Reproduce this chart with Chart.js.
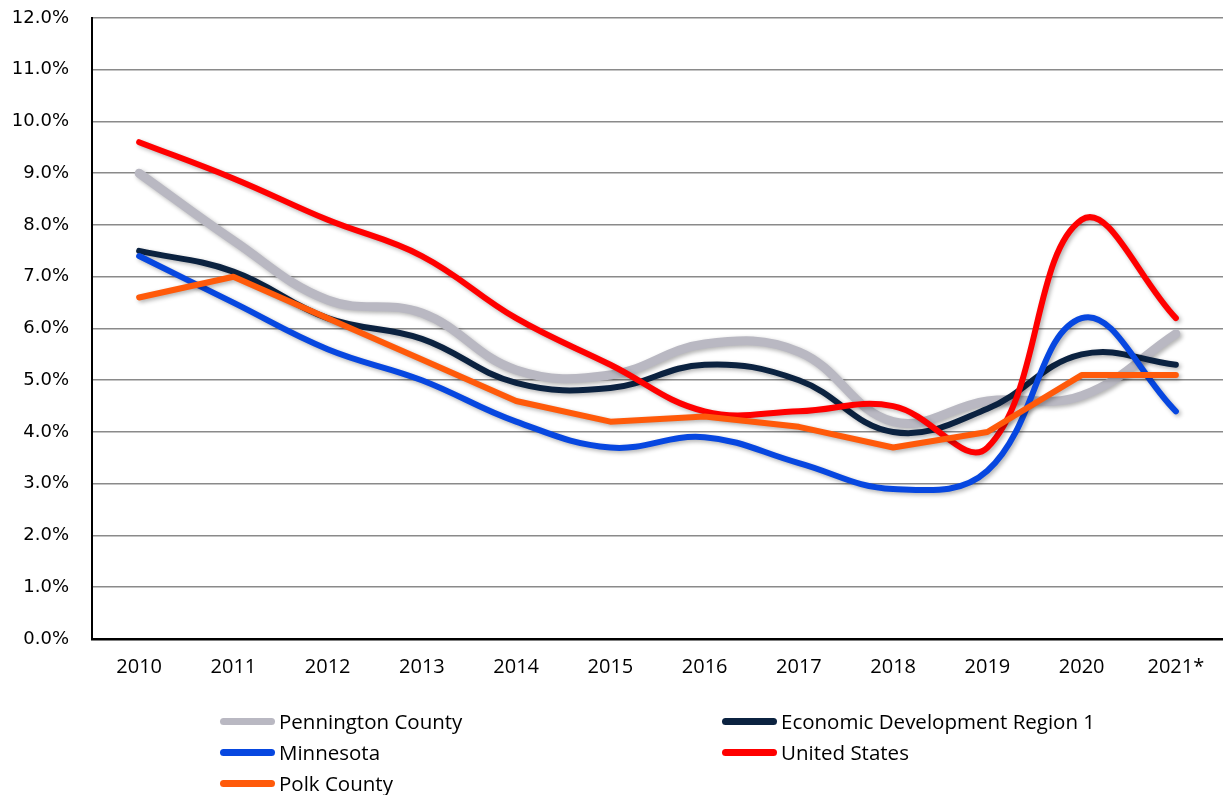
<!DOCTYPE html>
<html>
<head>
<meta charset="utf-8">
<title>Unemployment Rate 2010-2021</title>
<script src="https://cdn.jsdelivr.net/npm/chart.js"></script>
<style>
  body { margin: 0; background: #fff; }
  .container { position: relative; width: 1223px; height: 795px; }
  #legend { position: absolute; left: 0; top: 0; width: 1223px; height: 795px; pointer-events: none;
    font-family: "Open Sans", sans-serif; font-size: 20.5px; color: #000; }
  .item { position: absolute; display: flex; align-items: center; height: 30px; }
  .swatch { width: 55px; height: 7px; border-radius: 4px; margin-right: 4px; }
</style>
</head>
<body>
<div class="container">
  <canvas id="myChart" width="1223" height="795"></canvas>
  <div id="legend"></div>
</div>
<script>
// Data (unemployment rate, %)
const years = ["2010", "2011", "2012", "2013", "2014", "2015", "2016", "2017", "2018", "2019", "2020", "2021*"];
const penningtonCounty = [9.0, 7.7, 6.55, 6.3, 5.2, 5.1, 5.7, 5.55, 4.2, 4.6, 4.7, 5.9];
const edRegion1 = [7.5, 7.1, 6.2, 5.8, 4.95, 4.85, 5.3, 5.0, 4.0, 4.45, 5.5, 5.3];
const minnesota = [7.4, 6.5, 5.6, 5.0, 4.2, 3.7, 3.9, 3.4, 2.9, 3.25, 6.2, 4.4];
const unitedStates = [9.6, 8.9, 8.1, 7.4, 6.2, 5.3, 4.4, 4.4, 4.5, 3.7, 8.1, 6.2];
const polkCounty = [6.6, 7.0, 6.2, 5.4, 4.6, 4.2, 4.3, 4.1, 3.7, 4.0, 5.1, 5.1];
const yTicks = [0, 1, 2, 3, 4, 5, 6, 7, 8, 9, 10, 11, 12];

// Series styles (order: lower number is drawn on top)
const series = [
  { label: "Pennington County", data: penningtonCounty, color: "#b9b8c2", width: 9, tension: 0.4, order: 4 },
  { label: "Economic Development Region 1", data: edRegion1, color: "#0b2240", width: 6, tension: 0.4, order: 3 },
  { label: "Minnesota", data: minnesota, color: "#0747e0", width: 6, tension: 0.4, order: 2 },
  { label: "United States", data: unitedStates, color: "#ff0000", width: 6, tension: 0.4, order: 1 },
  { label: "Polk County", data: polkCounty, color: "#ff5a0a", width: 6, tension: 0, order: 0 },
];

// Soft drop shadow under each line, like the original
const shadowPlugin = {
  id: "lineShadow",
  beforeDatasetDraw(chart) {
    const ctx = chart.ctx;
    ctx.save();
    ctx.shadowColor = "rgba(0,0,0,0.3)";
    ctx.shadowBlur = 4;
    ctx.shadowOffsetX = 2;
    ctx.shadowOffsetY = 2;
  },
  afterDatasetDraw(chart) {
    chart.ctx.restore();
  },
};

const ctx = document.getElementById("myChart");

new Chart(ctx, {
  type: "line",
  data: {
    labels: years,
    datasets: series.map((s) => ({
      label: s.label,
      data: s.data,
      borderColor: s.color,
      backgroundColor: s.color,
      borderWidth: s.width,
      borderCapStyle: "round",
      borderJoinStyle: "round",
      tension: s.tension,
      pointRadius: 0,
      order: s.order,
      fill: false,
    })),
  },
  options: {
    responsive: false,
    animation: false,
    layout: { padding: { top: 18, right: 0, left: 0, bottom: 0 } },
    plugins: {
      legend: { display: false },
      tooltip: { enabled: false },
    },
    scales: {
      x: {
        offset: true,
        grid: { display: false, drawTicks: false },
        border: { color: "#000", width: 2.5 },
        ticks: {
          padding: 16,
          color: "#000",
          font: { family: "Open Sans", size: 20 },
          maxRotation: 0,
        },
        afterFit(scale) {
          scale.height = 795 - 639;
        },
      },
      y: {
        min: 0,
        max: 12,
        afterBuildTicks(scale) {
          scale.ticks = yTicks.map((v) => ({ value: v }));
        },
        // invisible tick marks make the gap between labels and axis
        grid: { color: "#8a8a8a", lineWidth: 1.6, drawTicks: true, tickLength: 23, tickColor: "rgba(0,0,0,0)" },
        border: { color: "#000", width: 2 },
        ticks: {
          padding: 0,
          color: "#000",
          font: { family: "DejaVu Sans", size: 18 },
          callback: (v) => v.toFixed(1) + "%",
        },
        afterFit(scale) {
          scale.width = 92;
        },
      },
    },
  },
  plugins: [shadowPlugin],
});

// Legend in two columns under the chart
const legendPos = [
  { left: 220, top: 706 },
  { left: 722, top: 706 },
  { left: 220, top: 737 },
  { left: 722, top: 737 },
  { left: 220, top: 768 },
];
const legend = document.getElementById("legend");
series.forEach((s, i) => {
  const item = document.createElement("div");
  item.className = "item";
  item.style.left = legendPos[i].left + "px";
  item.style.top = legendPos[i].top + "px";
  const sw = document.createElement("span");
  sw.className = "swatch";
  sw.style.background = s.color;
  const txt = document.createElement("span");
  txt.textContent = s.label;
  item.appendChild(sw);
  item.appendChild(txt);
  legend.appendChild(item);
});
</script>
</body>
</html>
